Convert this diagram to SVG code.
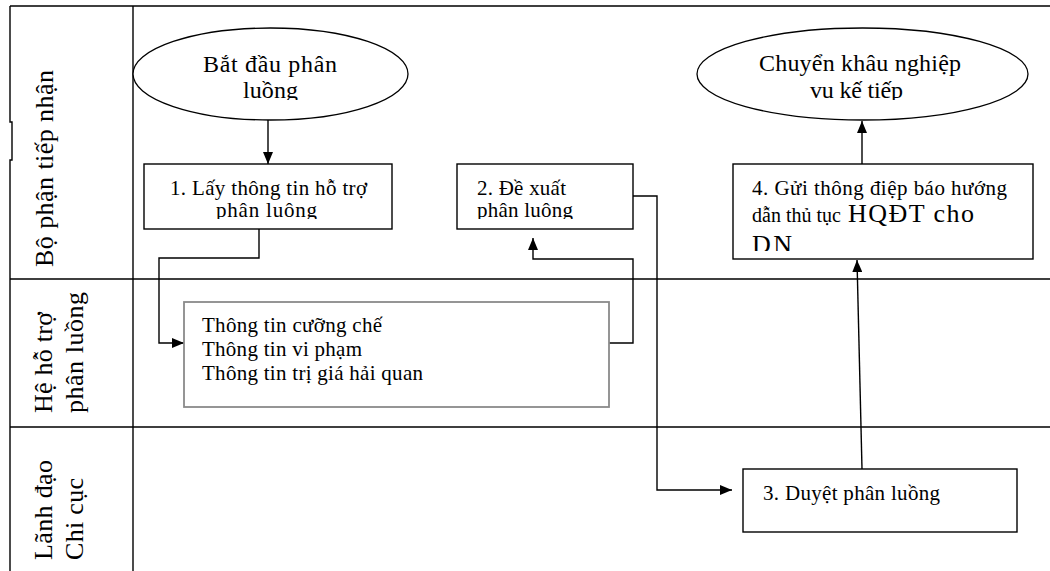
<svg xmlns="http://www.w3.org/2000/svg" width="1050" height="571" viewBox="0 0 1050 571">
<style>
  .t { font-family: "Liberation Serif", "Times New Roman", serif; fill: #000; }
  .f20 { font-size: 21px; }
  .f19 { font-size: 20px; }
  .f22 { font-size: 24px; }
  .f24 { font-size: 26px; }
  .lane { font-family: "Liberation Serif", "Times New Roman", serif; font-size: 26px; fill: #000; }
  .grid { stroke: #000; stroke-width: 1.4; fill: none; }
  .box { stroke: #000; stroke-width: 1.4; fill: #fff; }
  .gbox { stroke: #8a8a8a; stroke-width: 1.8; fill: #fff; }
  .oval { stroke: #000; stroke-width: 1.3; fill: #fff; }
  .conn { stroke: #000; stroke-width: 1.4; fill: none; }
</style>
<defs>
  <marker id="arr" viewBox="0 0 12 10" refX="12" refY="5" markerWidth="12" markerHeight="10" markerUnits="userSpaceOnUse" orient="auto">
    <path d="M0,0 L12,5 L0,10 Z" fill="#000"/>
  </marker>
  <clipPath id="cE1"><rect x="133" y="28" width="275" height="72"/></clipPath>
  <clipPath id="cE2"><rect x="697" y="28" width="331" height="72"/></clipPath>
  <clipPath id="cB1"><rect x="144" y="164" width="248" height="55"/></clipPath>
  <clipPath id="cB2"><rect x="457" y="164" width="176" height="55"/></clipPath>
  <clipPath id="cB4"><rect x="732" y="164" width="300" height="87"/></clipPath>
</defs>
<rect x="0" y="0" width="1050" height="571" fill="#fff"/>

<g id="lanes">
  <path class="grid" d="M10,6 H1050 M10,279 H1050 M10,427 H1050 M133,6 V571"/>
  <path class="grid" d="M10,6 V122 H12 V160 H10 V571"/>
  <text class="lane" transform="translate(53,267) rotate(-90)" textLength="197">Bộ phận tiếp nhận</text>
  <text class="lane" transform="translate(52,413) rotate(-90)" textLength="101">Hệ hỗ trợ</text>
  <text class="lane" transform="translate(83,413) rotate(-90)" textLength="121">phân luồng</text>
  <text class="lane" transform="translate(52,560) rotate(-90)" textLength="100">Lãnh đạo</text>
  <text class="lane" transform="translate(83,560) rotate(-90)" textLength="82">Chi cục</text>
</g>

<g id="connectors">
  <path class="conn" d="M268,120 V164" marker-end="url(#arr)"/>
  <path class="conn" d="M259,229 V258 H159 V343 H184" marker-end="url(#arr)"/>
  <path class="conn" d="M609,343 H633 V259 H533 V238" marker-end="url(#arr)"/>
  <path class="conn" d="M633,196 H657 V490 H732" marker-end="url(#arr)"/>
  <path class="conn" d="M862,469 L857,260" marker-end="url(#arr)"/>
  <path class="conn" d="M862,164 V121" marker-end="url(#arr)"/>
</g>

<g id="start">
  <ellipse class="oval" cx="270.5" cy="74" rx="137.5" ry="46"/>
  <g clip-path="url(#cE1)">
    <text class="t f22" x="203" y="72" textLength="134">Bắt đầu phân</text>
    <text class="t f22" x="243" y="98" textLength="55">luồng</text>
  </g>
</g>

<g id="end">
  <ellipse class="oval" cx="862.5" cy="74" rx="165.5" ry="46"/>
  <g clip-path="url(#cE2)">
    <text class="t f22" x="759" y="71" textLength="202">Chuyển khâu nghiệp</text>
    <text class="t f22" x="810" y="98" textLength="93">vu kế tiếp</text>
  </g>
</g>

<g id="step1">
  <rect class="box" x="144" y="164" width="248" height="65"/>
  <g clip-path="url(#cB1)">
    <text class="t f20" x="170" y="195" textLength="197">1. Lấy thông tin hỗ trợ</text>
    <text class="t f20" x="216" y="217" textLength="101">phân luông</text>
  </g>
</g>

<g id="step2">
  <rect class="box" x="457" y="164" width="176" height="65"/>
  <g clip-path="url(#cB2)">
    <text class="t f20" x="477" y="195" textLength="89">2. Đề xuất</text>
    <text class="t f20" x="477" y="217" textLength="96">phân luông</text>
  </g>
</g>

<g id="info">
  <rect class="gbox" x="184" y="302" width="425" height="105"/>
  <text class="t f20" x="202" y="332" textLength="180">Thông tin cưỡng chế</text>
  <text class="t f20" x="202" y="356" textLength="160">Thông tin vi phạm</text>
  <text class="t f20" x="202" y="380" textLength="221">Thông tin trị giá hải quan</text>
</g>

<g id="step3">
  <rect class="box" x="743" y="469" width="274" height="63"/>
  <text class="t f20" x="763" y="500" textLength="177">3. Duyệt phân luồng</text>
</g>

<g id="step4">
  <rect class="box" x="733" y="164" width="300" height="95"/>
  <g clip-path="url(#cB4)">
    <text class="t f20" x="752" y="195" textLength="255">4. Gửi thông điệp báo hướng</text>
    <text class="t f19" x="752" y="222">dẫn thủ tục <tspan class="f24" x="848" textLength="126">HQĐT cho</tspan></text>
    <text class="t f24" x="752" y="253" textLength="40">DN</text>
  </g>
</g>
</svg>
